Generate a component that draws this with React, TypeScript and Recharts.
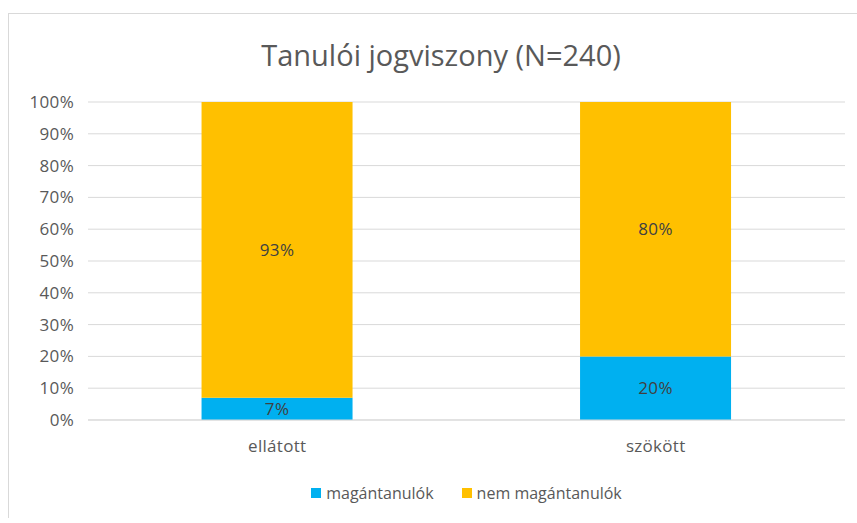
import { BarChart, Bar, XAxis, YAxis, CartesianGrid, LabelList } from "recharts";

const categories = ["ellátott", "szökött"];
const maganValues = [7, 20];
const nemMaganValues = [93, 80];
const yTicks = [0, 10, 20, 30, 40, 50, 60, 70, 80, 90, 100];
const seriesNames = ["magántanulók", "nem magántanulók"];

const BLUE = "#00B0F0";
const YELLOW = "#FFC000";
const TEXT = "#595959";
const FONT = "'Open Sans', sans-serif";

const data = categories.map((name, i) => ({
  name,
  magan: maganValues[i],
  nemMagan: nemMaganValues[i],
}));

const tickStyle = { fontSize: 17, fill: TEXT, fontFamily: FONT, letterSpacing: 0.3 };

function ChartLegend() {
  const items = [
    { label: seriesNames[0], color: BLUE },
    { label: seriesNames[1], color: YELLOW },
  ];
  return (
    <div
      style={{
        position: "absolute",
        left: 79,
        width: 757,
        top: 468,
        display: "flex",
        justifyContent: "center",
        gap: 28,
        fontFamily: FONT,
        fontSize: 16,
        color: TEXT,
      }}
    >
      {items.map((it) => (
        <div key={it.label} style={{ display: "flex", alignItems: "center" }}>
          <span style={{ width: 10, height: 10, background: it.color, marginRight: 5, display: "inline-block" }} />
          {it.label}
        </div>
      ))}
    </div>
  );
}

export default function App() {
  return (
    <div
      style={{
        position: "absolute",
        left: 8,
        top: 13,
        width: 849,
        height: 505,
        borderTop: "1px solid #d9d9d9",
        borderLeft: "1px solid #d9d9d9",
        boxSizing: "border-box",
        background: "#fff",
      }}
    >
      <div
        style={{
          position: "absolute",
          top: 21,
          left: 0,
          width: 864,
          textAlign: "center",
          fontFamily: FONT,
          fontSize: 29,
          color: TEXT,
        }}
      >
        Tanulói jogviszony (N=240)
      </div>
      <BarChart
        width={848}
        height={504}
        data={data}
        margin={{ top: 88, right: 12, left: 0, bottom: 68 }}
        barCategoryGap="30%"
      >
        <CartesianGrid vertical={false} stroke="#d9d9d9" />
        <XAxis
          dataKey="name"
          height={30}
          axisLine={{ stroke: "#d9d9d9" }}
          tickLine={false}
          tickMargin={14}
          tick={tickStyle}
        />
        <YAxis
          width={79}
          domain={[0, 100]}
          ticks={yTicks}
          tickFormatter={(v) => `${v}%`}
          axisLine={false}
          tickLine={false}
          tickMargin={8}
          tick={tickStyle}
        />
        <Bar dataKey="magan" name={seriesNames[0]} stackId="a" fill={BLUE} isAnimationActive={false}>
          <LabelList
            dataKey="magan"
            position="center"
            formatter={(v: number) => `${v}%`}
            style={{ fontSize: 17, fill: "#404040", fontFamily: FONT, letterSpacing: 0.3 }}
          />
        </Bar>
        <Bar dataKey="nemMagan" name={seriesNames[1]} stackId="a" fill={YELLOW} isAnimationActive={false}>
          <LabelList
            dataKey="nemMagan"
            position="center"
            formatter={(v: number) => `${v}%`}
            style={{ fontSize: 17, fill: "#404040", fontFamily: FONT, letterSpacing: 0.3 }}
          />
        </Bar>
      </BarChart>
      <ChartLegend />
    </div>
  );
}
